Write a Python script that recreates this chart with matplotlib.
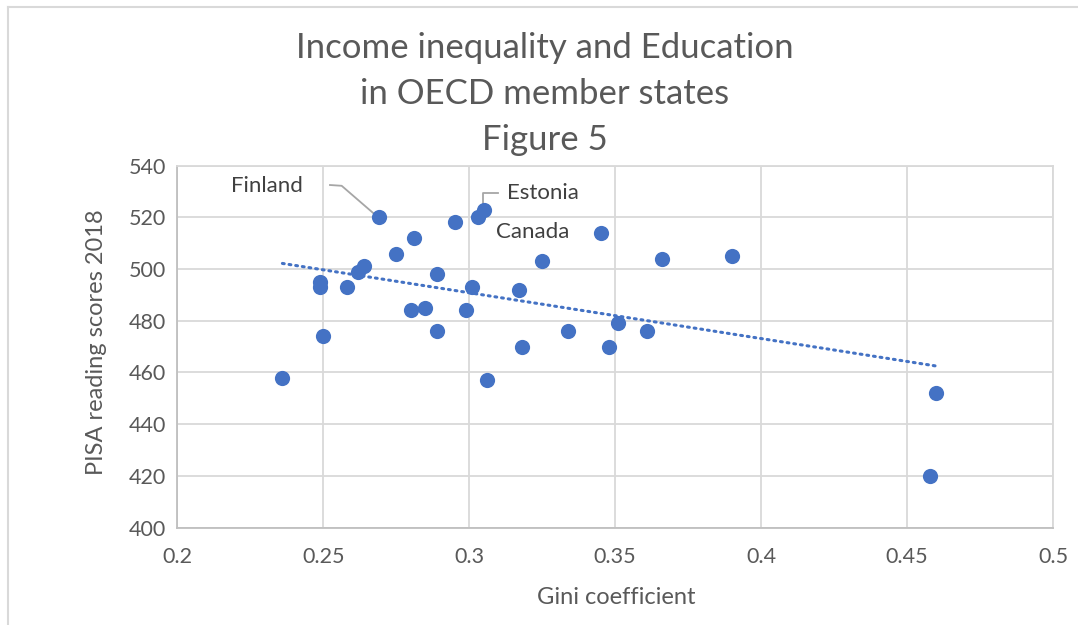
import numpy as np
import matplotlib.pyplot as plt
from matplotlib.lines import Line2D

# Gini coefficient vs PISA reading score 2018 (OECD states)
gini = [0.269, 0.295, 0.303, 0.305, 0.281, 0.275, 0.264, 0.262, 0.249, 0.249,
        0.258, 0.289, 0.301, 0.280, 0.285, 0.299, 0.289, 0.250, 0.236, 0.306,
        0.345, 0.325, 0.366, 0.390, 0.317, 0.351, 0.334, 0.361, 0.318, 0.348,
        0.460, 0.458]
pisa = [520, 518, 520, 523, 512, 506, 501, 499, 495, 493,
        493, 498, 493, 484, 485, 484, 476, 474, 458, 457,
        514, 503, 504, 505, 492, 479, 476, 476, 470, 470,
        452, 420]
x_ticks = [0.2, 0.25, 0.3, 0.35, 0.4, 0.45, 0.5]
x_tick_labels = ['0.2', '0.25', '0.3', '0.35', '0.4', '0.45', '0.5']
y_ticks = [400, 420, 440, 460, 480, 500, 520, 540]

blue = '#4472C4'
grey = '#595959'
grid = '#D9D9D9'

plt.rcParams['font.family'] = ['Lato', 'DejaVu Sans']

W, H = 1078, 625
fig = plt.figure(figsize=(10.78, 6.25), dpi=100)
ax = fig.add_axes([0.1645, 0.156, 0.8123, 0.579])

ax.scatter(gini, pisa, s=120, color=blue, zorder=3, linewidths=0)

# linear trendline
k, b = np.polyfit(gini, pisa, 1)
xs = np.array([min(gini), max(gini)])
ax.plot(xs, k * xs + b, color=blue, lw=2.2, linestyle=(0, (0.6, 1.6)),
        dash_capstyle='round', zorder=2)

ax.set_xlim(0.2, 0.5)
ax.set_ylim(400, 540)
ax.set_xticks(x_ticks)
ax.set_xticklabels(x_tick_labels)
ax.set_yticks(y_ticks)
ax.grid(True, color=grid, lw=1.3)
ax.set_axisbelow(True)
for s in ax.spines.values():
    s.set_color(grid)
    s.set_linewidth(1.3)
ax.spines['left'].set_color('#BFBFBF')
ax.spines['bottom'].set_color('#BFBFBF')
ax.tick_params(length=0, labelsize=15.5, labelcolor=grey, pad=8)
ax.tick_params(axis='x', pad=14)

fig.text(616 / W, 1 - 598 / H, 'Gini coefficient', fontsize=17, color=grey,
         ha='center', va='center')
fig.text(97 / W, 1 - 342 / H, 'PISA reading scores 2018', fontsize=17, color=grey,
         ha='center', va='center', rotation=90)

# data labels with leader lines
lab = '#404040'
lead = '#A6A6A6'
ax.text(0.2430, 532.1, 'Finland', fontsize=16, color=lab, ha='right', va='center')
ax.plot([0.2523, 0.2563, 0.2688], [532.5, 532.2, 520], color=lead, lw=1.3, zorder=2.5)
ax.text(0.3129, 529.4, 'Estonia', fontsize=16, color=lab, ha='left', va='center')
ax.plot([0.3048, 0.3048, 0.3099], [523, 529.3, 529.3], color=lead, lw=1.3, zorder=2.5)
ax.text(0.3091, 514.3, 'Canada', fontsize=16, color=lab, ha='left', va='center')

tx = 545 / W
fig.text(tx, 1 - 48 / H, 'Income inequality and Education', fontsize=25,
         color=grey, ha='center', va='center')
fig.text(tx, 1 - 94 / H, 'in OECD member states', fontsize=25,
         color=grey, ha='center', va='center')
fig.text(tx, 1 - 140 / H, 'Figure 5', fontsize=25,
         color=grey, ha='center', va='center')

# chart area border
fig.add_artist(Line2D([7.5 / W, 7.5 / W], [0, 1 - 7 / H], color=grid, lw=1.5))
fig.add_artist(Line2D([7.5 / W, 1], [1 - 7 / H, 1 - 7 / H], color=grid, lw=1.5))

fig.savefig('out.png', dpi=100)
